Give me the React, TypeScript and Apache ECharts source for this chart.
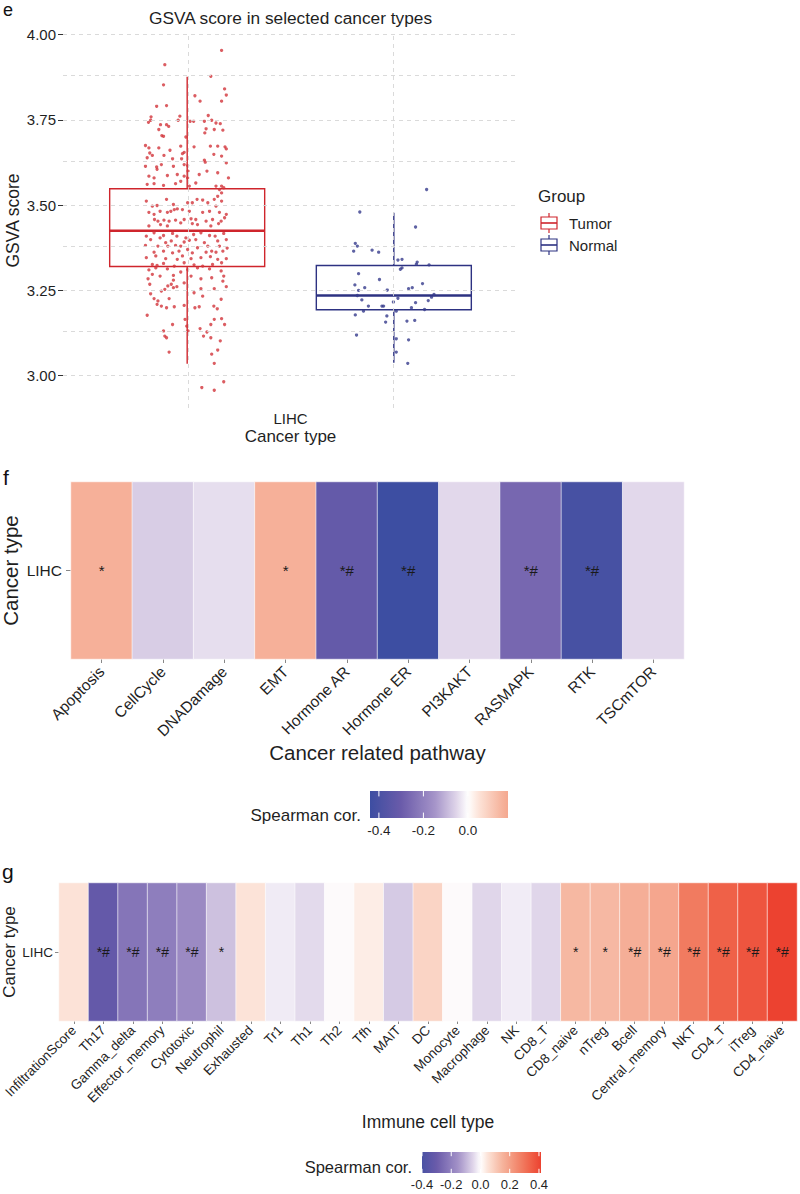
import React, { useEffect, useRef } from "react";
import * as echarts from "echarts";

// ---------- Panel e : GSVA score ----------
const groups = ["Tumor", "Normal"];
const groupPos = [-0.2725, 0.2725]; // dodge positions around LIHC (0)
// [lower whisker, Q1, median, Q3, upper whisker]
const boxStats = [
  [3.035, 3.32, 3.425, 3.548, 3.877],
  [3.038, 3.193, 3.235, 3.323, 3.478],
];
const yMajorTicks = [3, 3.25, 3.5, 3.75, 4];
const yMinorTicks = [3.125, 3.375, 3.625, 3.875];

// [jitter fraction (-1..1), GSVA score]
const tumorPoints: [number, number][] = [
  [0.8, 3.954], [-0.52, 3.912], [0.55, 3.878], [-0.55, 3.853], [0.87, 3.841], [0.18, 3.821], [0.91, 3.823],
  [0.8, 3.805], [0.3, 3.805], [-0.71, 3.79], [-0.48, 3.792], [0.49, 3.763], [-0.17, 3.761], [-0.84, 3.759],
  [-0.9, 3.743], [-0.85, 3.749], [-0.62, 3.736], [-0.48, 3.736], [-0.43, 3.731], [-0.21, 3.749], [0.07, 3.746],
  [0.15, 3.746], [0.4, 3.746], [0.57, 3.749], [0.67, 3.741], [0.77, 3.739], [-0.66, 3.722], [0.44, 3.724],
  [0.63, 3.722], [0.83, 3.72], [-0.59, 3.704], [-0.55, 3.702], [0.41, 3.712], [-0.03, 3.7], [-0.97, 3.675],
  [-0.89, 3.668], [-0.66, 3.668], [-0.4, 3.661], [-0.15, 3.673], [-0.07, 3.655], [-0.11, 3.651], [0.16, 3.671],
  [0.54, 3.673], [0.71, 3.673], [0.88, 3.671], [0.91, 3.665], [-0.93, 3.639], [-0.81, 3.646], [-0.87, 3.653],
  [-0.54, 3.646], [-0.34, 3.636], [-0.13, 3.636], [0.4, 3.632], [0.42, 3.626], [0.62, 3.649], [0.8, 3.644],
  [0.91, 3.624], [-0.97, 3.614], [-0.71, 3.612], [-0.7, 3.605], [-0.6, 3.619], [-0.32, 3.614], [0.01, 3.616],
  [-0.07, 3.619], [0.02, 3.6], [0.28, 3.59], [-0.89, 3.585], [-0.77, 3.58], [-0.46, 3.587], [-0.23, 3.59],
  [-0.07, 3.585], [0.01, 3.58], [0.46, 3.6], [0.71, 3.595], [0.96, 3.58], [-0.93, 3.561], [-0.77, 3.563],
  [-0.55, 3.558], [-0.27, 3.563], [-0.15, 3.57], [0.05, 3.556], [0.2, 3.565], [0.67, 3.556], [0.8, 3.556],
  [0.75, 3.546], [0.85, 3.551],
  [-0.95, 3.512], [-0.81, 3.497], [-0.7, 3.499], [-0.48, 3.517], [-0.32, 3.502], [-0.3, 3.487], [-0.23, 3.489],
  [-0.11, 3.487], [0.01, 3.507], [0.12, 3.507], [0.23, 3.517], [0.36, 3.515], [0.48, 3.507], [0.63, 3.517],
  [0.71, 3.526], [0.8, 3.536], [0.8, 3.512], [-0.89, 3.479], [-0.77, 3.473], [-0.63, 3.482], [-0.46, 3.479],
  [-0.38, 3.482], [0.05, 3.482], [0.36, 3.479], [0.52, 3.482], [0.67, 3.497], [0.75, 3.479], [0.87, 3.463],
  [0.91, 3.473], [-0.76, 3.458], [-0.68, 3.453], [-0.54, 3.456], [-0.42, 3.453], [-0.27, 3.456], [-0.07, 3.458],
  [0.09, 3.46], [0.2, 3.458], [0.44, 3.453], [0.59, 3.458], [0.79, 3.453], [-0.89, 3.439], [-0.62, 3.443],
  [-0.46, 3.439], [-0.15, 3.448], [0.12, 3.446], [0.24, 3.443], [0.55, 3.439], [0.73, 3.446], [-0.95, 3.409],
  [-0.77, 3.419], [-0.63, 3.404], [-0.55, 3.411], [-0.34, 3.417], [-0.24, 3.409], [-0.03, 3.404], [0.15, 3.414],
  [0.32, 3.419], [0.52, 3.411], [0.65, 3.409], [0.85, 3.417], [-0.85, 3.399], [-0.5, 3.39], [-0.37, 3.395],
  [-0.07, 3.392], [0.05, 3.397], [0.2, 3.399], [0.4, 3.39], [0.71, 3.395], [0.91, 3.399], [-0.97, 3.382],
  [-0.68, 3.38], [-0.45, 3.38], [-0.27, 3.382], [-0.15, 3.38], [0.24, 3.375], [0.48, 3.38], [0.75, 3.38],
  [0.93, 3.374], [-0.77, 3.362], [-0.55, 3.365], [-0.34, 3.36], [-0.19, 3.365], [0.01, 3.37], [0.12, 3.36],
  [0.44, 3.362], [0.57, 3.365], [0.67, 3.362], [0.83, 3.365], [-0.95, 3.346], [-0.73, 3.351], [-0.5, 3.343],
  [-0.23, 3.341], [-0.11, 3.351], [0.09, 3.343], [0.32, 3.346], [0.54, 3.349], [0.71, 3.341], [0.91, 3.343],
  [-0.81, 3.326], [-0.7, 3.323], [-0.55, 3.329], [-0.3, 3.321], [-0.07, 3.331], [0.16, 3.325], [0.36, 3.321],
  [0.59, 3.326], [0.8, 3.331], [-0.89, 3.31], [-0.73, 3.316], [-0.46, 3.313], [0.01, 3.311], [0.24, 3.316],
  [0.52, 3.313], [0.79, 3.307],
  [-0.91, 3.284], [-0.81, 3.297], [-0.63, 3.292], [-0.32, 3.294], [-0.15, 3.304], [0.09, 3.292], [0.32, 3.284],
  [0.57, 3.287], [0.85, 3.292], [-0.87, 3.268], [-0.32, 3.28], [-0.37, 3.268], [-0.07, 3.272], [0.83, 3.277],
  [-0.85, 3.24], [-0.6, 3.248], [-0.52, 3.253], [-0.45, 3.263], [-0.32, 3.258], [-0.24, 3.261], [0.16, 3.243],
  [0.32, 3.255], [0.63, 3.255], [0.91, 3.261], [-0.77, 3.226], [-0.68, 3.219], [-0.42, 3.226], [0.36, 3.233],
  [0.79, 3.224], [-0.7, 3.209], [-0.6, 3.204], [-0.48, 3.199], [-0.3, 3.202], [-0.07, 3.206], [0.18, 3.199],
  [0.28, 3.202], [0.62, 3.204], [0.7, 3.196], [-0.93, 3.177], [-0.05, 3.165], [0.63, 3.165], [0.8, 3.167],
  [-0.34, 3.15], [-0.01, 3.145], [0.02, 3.131], [0.55, 3.15], [0.87, 3.15], [-0.55, 3.131], [-0.52, 3.116],
  [-0.48, 3.111], [0.3, 3.138], [0.38, 3.116], [0.46, 3.128], [0.55, 3.111], [0.77, 3.102], [-0.42, 3.069],
  [0.57, 3.063], [0.71, 3.075], [0.63, 3.036], [0.85, 2.982], [0.34, 2.965], [0.63, 2.957],
];

const normalPoints: [number, number][] = [
  [0.8, 3.546], [-0.83, 3.48], [0.53, 3.436], [-0.94, 3.388], [-0.89, 3.38], [-0.98, 3.365], [-0.53, 3.368],
  [-0.37, 3.362], [0.1, 3.339], [0.2, 3.341], [0.57, 3.333], [0.55, 3.327], [0.86, 3.325], [0.2, 3.316],
  [0.16, 3.312], [-0.86, 3.299], [-0.35, 3.282], [-0.95, 3.266], [-0.86, 3.25], [-0.71, 3.258], [-0.16, 3.251],
  [0.36, 3.255], [0.45, 3.258], [0.7, 3.27], [-0.89, 3.235], [-0.78, 3.222], [0.1, 3.227], [-0.01, 3.216],
  [0.53, 3.214], [0.84, 3.22], [0.92, 3.23], [0.98, 3.238], [-0.62, 3.204], [-0.29, 3.204], [-0.25, 3.204],
  [-0.74, 3.189], [0.06, 3.189], [0.43, 3.199], [0.75, 3.194], [-0.94, 3.178], [-0.17, 3.175], [-0.2, 3.157],
  [0.32, 3.16], [0.51, 3.162], [-0.91, 3.119], [0.06, 3.108], [0.36, 3.105], [0.06, 3.069], [0.34, 3.036],
];

// ---------- Panel f : cancer related pathways ----------
const pathways = ["Apoptosis", "CellCycle", "DNADamage", "EMT", "Hormone AR", "Hormone ER", "PI3KAKT", "RASMAPK", "RTK", "TSCmTOR"];
const pathwayCor = [0.16, -0.063, -0.04, 0.16, -0.32, -0.44, -0.048, -0.267, -0.41, -0.047];
const pathwaySig = ["*", "", "", "*", "*#", "*#", "", "*#", "*#", ""];
const pathwayRange = [-0.44, 0.18];
const pathwayLegendTicks = [-0.4, -0.2, 0];

// ---------- Panel g : immune cell types ----------
const immuneCells = [
  "InfiltrationScore", "Th17", "Gamma_delta", "Effector_memory", "Cytotoxic", "Neutrophil", "Exhausted", "Tr1",
  "Th1", "Th2", "Tfh", "MAIT", "DC", "Monocyte", "Macrophage", "NK", "CD8_T", "CD8_naive", "nTreg", "Bcell",
  "Central_memory", "NKT", "CD4_T", "iTreg", "CD4_naive",
];
const immuneCor = [
  0.052, -0.32, -0.23, -0.207, -0.175, -0.082, 0.05, -0.024, -0.045, 0.0, 0.032, -0.068, 0.082, 0.0, -0.05,
  -0.023, -0.05, 0.141, 0.14, 0.164, 0.183, 0.286, 0.345, 0.371, 0.413,
];
const immuneSig = [
  "", "*#", "*#", "*#", "*#", "*", "", "", "", "", "", "", "", "", "", "", "", "*", "*", "*#", "*#", "*#", "*#", "*#", "*#",
];
const immuneRange = [-0.4, 0.414];
const immuneLegendTicks = [-0.4, -0.2, 0, 0.2, 0.4];

// ---------- styles ----------
const FONT = "'Liberation Sans', Arial, Helvetica, sans-serif";
const groupColors = ["#CF252C", "#2D3282"];
const pointColors = ["#D2353B", "#363B8C"];
const BOX_HALF = 0.2044;
const JITTER = [0.1134, 0.1081];
const GRID_COLOR = "#D6D6D6";
const TXT = "#1f1f1f";

const gradStops: [number, string][] = [
  [-0.45, "#3A4DA1"], [-0.3, "#6A5BAA"], [-0.15, "#A493C8"], [-0.05, "#E0D6EA"], [0, "#FFFFFF"],
  [0.05, "#FCE3D8"], [0.15, "#F6B49D"], [0.25, "#F28A6F"], [0.35, "#EF5E46"], [0.45, "#EB3323"],
];
function hexRgb(h: string) {
  return [parseInt(h.slice(1, 3), 16), parseInt(h.slice(3, 5), 16), parseInt(h.slice(5, 7), 16)];
}
function corColor(v: number) {
  if (v <= gradStops[0][0]) return gradStops[0][1];
  for (let i = 1; i < gradStops.length; i++) {
    if (v <= gradStops[i][0]) {
      const [v0, c0] = gradStops[i - 1];
      const [v1, c1] = gradStops[i];
      const t = (v - v0) / (v1 - v0);
      const a = hexRgb(c0), b = hexRgb(c1);
      const c = a.map((x, k) => Math.round(x + (b[k] - x) * t));
      return `rgb(${c[0]},${c[1]},${c[2]})`;
    }
  }
  return gradStops[gradStops.length - 1][1];
}
function sampleColors(lo: number, hi: number, n: number) {
  const out: string[] = [];
  for (let k = 0; k <= n; k++) out.push(corColor(lo + ((hi - lo) * k) / n));
  return out;
}

function colorbarSeries(xi: number, lo: number, hi: number, ticks: number[]) {
  return {
    type: "custom",
    xAxisIndex: xi,
    yAxisIndex: xi,
    silent: true,
    data: [[lo, hi]],
    encode: { x: [0, 1] },
    renderItem: (_p: any, api: any) => {
      const p0 = api.coord([lo, 1]);
      const p1 = api.coord([hi, 0]);
      const w = p1[0] - p0[0];
      const h = p1[1] - p0[1];
      const stops: any[] = [];
      const n = 40;
      for (let k = 0; k <= n; k++) stops.push({ offset: k / n, color: corColor(lo + ((hi - lo) * k) / n) });
      const children: any[] = [
        { type: "rect", shape: { x: p0[0], y: p0[1], width: w, height: h }, style: { fill: new echarts.graphic.LinearGradient(0, 0, 1, 0, stops) } },
      ];
      ticks.forEach((t) => {
        const px = api.coord([t, 0])[0];
        children.push({ type: "line", shape: { x1: px, y1: p0[1], x2: px, y2: p0[1] + h * 0.2 }, style: { stroke: "#fff", lineWidth: 1 } });
        children.push({ type: "line", shape: { x1: px, y1: p1[1], x2: px, y2: p1[1] - h * 0.2 }, style: { stroke: "#fff", lineWidth: 1 } });
      });
      return { type: "group", children };
    },
  };
}

function boxRender(params: any, api: any) {
  const x = api.value(0);
  const low = api.value(1), q1 = api.value(2), med = api.value(3), q3 = api.value(4), high = api.value(5);
  const color = groupColors[params.dataIndex];
  const tl = api.coord([x - BOX_HALF, q3]);
  const br = api.coord([x + BOX_HALF, q1]);
  const mL = api.coord([x - BOX_HALF, med]);
  const mR = api.coord([x + BOX_HALF, med]);
  const pHi = api.coord([x, high]);
  const pQ3 = api.coord([x, q3]);
  const pQ1 = api.coord([x, q1]);
  const pLo = api.coord([x, low]);
  return {
    type: "group",
    children: [
      { type: "line", shape: { x1: pHi[0], y1: pHi[1], x2: pQ3[0], y2: pQ3[1] }, style: { stroke: color, lineWidth: 1.4 } },
      { type: "line", shape: { x1: pQ1[0], y1: pQ1[1], x2: pLo[0], y2: pLo[1] }, style: { stroke: color, lineWidth: 1.4 } },
      { type: "rect", shape: { x: tl[0], y: tl[1], width: br[0] - tl[0], height: br[1] - tl[1] }, style: { fill: "transparent", stroke: color, lineWidth: 1.4 } },
      { type: "line", shape: { x1: mL[0], y1: mL[1], x2: mR[0], y2: mR[1] }, style: { stroke: color, lineWidth: 2.6 } },
    ],
  };
}

function legendKey(cy: number, color: string) {
  return {
    type: "group",
    children: [
      { type: "line", shape: { x1: 549, y1: cy - 10, x2: 549, y2: cy + 10 }, style: { stroke: color, lineWidth: 1.2 } },
      { type: "rect", shape: { x: 541, y: cy - 6, width: 16, height: 12 }, style: { fill: "#fff", stroke: color, lineWidth: 1.2 } },
      { type: "line", shape: { x1: 541, y1: cy, x2: 557, y2: cy }, style: { stroke: color, lineWidth: 1.6 } },
    ],
  };
}

const gridBase = { containLabel: false, outerBoundsMode: "none" };

function buildOption(): any {
  const gridMarks = [
    ...yMajorTicks.map((v) => ({ yAxis: v })),
    ...yMinorTicks.map((v) => ({ yAxis: v })),
    ...groupPos.map((v) => ({ xAxis: v })),
  ];
  return {
    animation: false,
    backgroundColor: "#ffffff",
    textStyle: { fontFamily: FONT },
    grid: [
      { ...gridBase, left: 63, top: 33, width: 455, height: 375 },
      { ...gridBase, left: 71, top: 482, width: 613, height: 177 },
      { ...gridBase, left: 370, top: 791, width: 138, height: 27 },
      { ...gridBase, left: 59, top: 883, width: 738, height: 138 },
      { ...gridBase, left: 422, top: 1152, width: 119, height: 21 },
    ],
    xAxis: [
      {
        gridIndex: 0, type: "value", min: -0.6, max: 0.6, interval: 0.6,
        axisLine: { show: false, onZero: false }, axisTick: { show: false }, splitLine: { show: false },
        axisLabel: { formatter: (v: number) => (Math.abs(v) < 1e-6 ? "LIHC" : ""), fontSize: 15, color: TXT, margin: 3, showMinLabel: false, showMaxLabel: false },
        name: "Cancer type", nameLocation: "middle", nameGap: 20, nameTextStyle: { fontSize: 17, color: TXT },
      },
      {
        gridIndex: 1, type: "category", data: pathways,
        axisLine: { show: false }, axisTick: { show: true, alignWithLabel: true, length: 4, lineStyle: { color: "#888" } },
        axisLabel: { rotate: 45, fontSize: 15.5, color: TXT, margin: 10, interval: 0 },
        name: "Cancer related pathway", nameLocation: "middle", nameGap: 83, nameTextStyle: { fontSize: 20.5, color: TXT },
      },
      {
        gridIndex: 2, type: "value", min: pathwayRange[0], max: pathwayRange[1],
        axisLine: { show: false }, axisTick: { show: false }, splitLine: { show: false },
        axisLabel: { customValues: pathwayLegendTicks, formatter: (v: number) => v.toFixed(1), fontSize: 13.5, color: TXT, margin: 5 },
      },
      {
        gridIndex: 3, type: "category", data: immuneCells,
        axisLine: { show: false }, axisTick: { show: true, alignWithLabel: true, length: 3, lineStyle: { color: "#888" } },
        axisLabel: { rotate: 45, fontSize: 13.5, color: TXT, margin: 7, interval: 0 },
        name: "Immune cell type", nameLocation: "middle", nameGap: 92, nameTextStyle: { fontSize: 17.5, color: TXT },
      },
      {
        gridIndex: 4, type: "value", min: immuneRange[0], max: immuneRange[1],
        axisLine: { show: false }, axisTick: { show: false }, splitLine: { show: false },
        axisLabel: { customValues: immuneLegendTicks, formatter: (v: number) => v.toFixed(1), fontSize: 13, color: TXT, margin: 5 },
      },
    ],
    yAxis: [
      {
        gridIndex: 0, type: "value", min: 2.905, max: 4.005,
        axisLine: { show: false, onZero: false }, splitLine: { show: false },
        axisTick: { show: true, customValues: yMajorTicks, length: 5, lineStyle: { color: "#333" } },
        axisLabel: { customValues: yMajorTicks, formatter: (v: number) => v.toFixed(2), fontSize: 15, color: TXT, margin: 7 },
        name: "GSVA score", nameLocation: "middle", nameGap: 41, nameRotate: 90, nameMoveOverlap: false, nameTextStyle: { fontSize: 17.5, color: TXT },
      },
      {
        gridIndex: 1, type: "category", data: ["LIHC"],
        axisLine: { show: false }, axisTick: { show: true, length: 5, alignWithLabel: true, lineStyle: { color: "#888" } },
        axisLabel: { fontSize: 15.5, color: TXT, margin: 9 },
        name: "Cancer type", nameLocation: "middle", nameGap: 50, nameRotate: 90, nameMoveOverlap: false, nameTextStyle: { fontSize: 20.5, color: TXT },
      },
      { gridIndex: 2, type: "value", min: 0, max: 1, show: false },
      {
        gridIndex: 3, type: "category", data: ["LIHC"],
        axisLine: { show: false }, axisTick: { show: true, length: 4, alignWithLabel: true, lineStyle: { color: "#888" } },
        axisLabel: { fontSize: 13.5, color: TXT, margin: 6 },
        name: "Cancer type", nameLocation: "middle", nameGap: 41, nameRotate: 90, nameMoveOverlap: false, nameTextStyle: { fontSize: 17, color: TXT },
      },
      { gridIndex: 4, type: "value", min: 0, max: 1, show: false },
    ],
    visualMap: [
      { type: "continuous", show: false, seriesIndex: 4, dimension: 2, min: pathwayRange[0], max: pathwayRange[1], inRange: { color: sampleColors(pathwayRange[0], pathwayRange[1], 60) } },
      { type: "continuous", show: false, seriesIndex: 6, dimension: 2, min: immuneRange[0], max: immuneRange[1], inRange: { color: sampleColors(immuneRange[0], immuneRange[1], 60) } },
    ],
    series: [
      {
        type: "scatter", xAxisIndex: 0, yAxisIndex: 0, data: [], z: 1, silent: true,
        markLine: {
          silent: true, symbol: ["none", "none"], label: { show: false },
          lineStyle: { type: [4, 4], color: GRID_COLOR, width: 0.9 },
          data: gridMarks,
        },
      },
      {
        type: "custom", xAxisIndex: 0, yAxisIndex: 0, z: 2, silent: true,
        data: groups.map((_, i) => [groupPos[i], ...boxStats[i]]),
        encode: { x: 0, y: [1, 2, 3, 4, 5] },
        renderItem: boxRender,
      },
      {
        type: "scatter", xAxisIndex: 0, yAxisIndex: 0, z: 3, silent: true, symbolSize: 3.3,
        itemStyle: { color: pointColors[0] },
        data: tumorPoints.map(([j, v]) => [groupPos[0] + j * JITTER[0], v]),
      },
      {
        type: "scatter", xAxisIndex: 0, yAxisIndex: 0, z: 3, silent: true, symbolSize: 3.3,
        itemStyle: { color: pointColors[1] },
        data: normalPoints.map(([j, v]) => [groupPos[1] + j * JITTER[1], v]),
      },
      {
        type: "heatmap", xAxisIndex: 1, yAxisIndex: 1, silent: true,
        data: pathwayCor.map((v, i) => [i, 0, v]),
        itemStyle: { borderColor: "#ffffff", borderWidth: 0.6 },
        label: { show: true, formatter: (p: any) => pathwaySig[p.dataIndex], fontSize: 15, color: "#1a1a1a" },
      },
      colorbarSeries(2, pathwayRange[0], pathwayRange[1], pathwayLegendTicks),
      {
        type: "heatmap", xAxisIndex: 3, yAxisIndex: 3, silent: true,
        data: immuneCor.map((v, i) => [i, 0, v]),
        itemStyle: { borderColor: "#ffffff", borderWidth: 0.6 },
        label: { show: true, formatter: (p: any) => immuneSig[p.dataIndex], fontSize: 14, color: "#1a1a1a" },
      },
      colorbarSeries(4, immuneRange[0], immuneRange[1], immuneLegendTicks),
    ],
    graphic: [
      { type: "text", x: 3, y: 10, style: { text: "e", fontSize: 18, fill: "#111", fontFamily: FONT, verticalAlign: "middle" } },
      { type: "text", x: 3, y: 477, style: { text: "f", fontSize: 21, fill: "#111", fontFamily: FONT, verticalAlign: "middle" } },
      { type: "text", x: 2, y: 871, style: { text: "g", fontSize: 21, fill: "#111", fontFamily: FONT, verticalAlign: "middle" } },
      { type: "text", x: 290.5, y: 18, style: { text: "GSVA score in selected cancer types", fontSize: 17.3, fill: TXT, fontFamily: FONT, align: "center", verticalAlign: "middle" } },
      { type: "text", x: 538, y: 196, style: { text: "Group", fontSize: 17, fill: TXT, fontFamily: FONT, verticalAlign: "middle" } },
      legendKey(223, groupColors[0]),
      legendKey(245, groupColors[1]),
      { type: "text", x: 569, y: 223, style: { text: groups[0], fontSize: 15, fill: TXT, fontFamily: FONT, verticalAlign: "middle" } },
      { type: "text", x: 569, y: 245, style: { text: groups[1], fontSize: 15, fill: TXT, fontFamily: FONT, verticalAlign: "middle" } },
      { type: "text", x: 361, y: 815, style: { text: "Spearman cor.", fontSize: 17, fill: TXT, fontFamily: FONT, align: "right", verticalAlign: "middle" } },
      { type: "text", x: 412, y: 1167, style: { text: "Spearman cor.", fontSize: 16.5, fill: TXT, fontFamily: FONT, align: "right", verticalAlign: "middle" } },
    ],
  };
}

export default function App() {
  const ref = useRef<HTMLDivElement>(null);
  useEffect(() => {
    const chart = echarts.init(ref.current as HTMLDivElement, null, { renderer: "svg" });
    chart.setOption(buildOption());
    return () => chart.dispose();
  }, []);
  return (
    <div
      ref={ref}
      style={{ position: "absolute", left: 0, top: 0, width: 800, height: 1194, background: "#fff" }}
    />
  );
}
